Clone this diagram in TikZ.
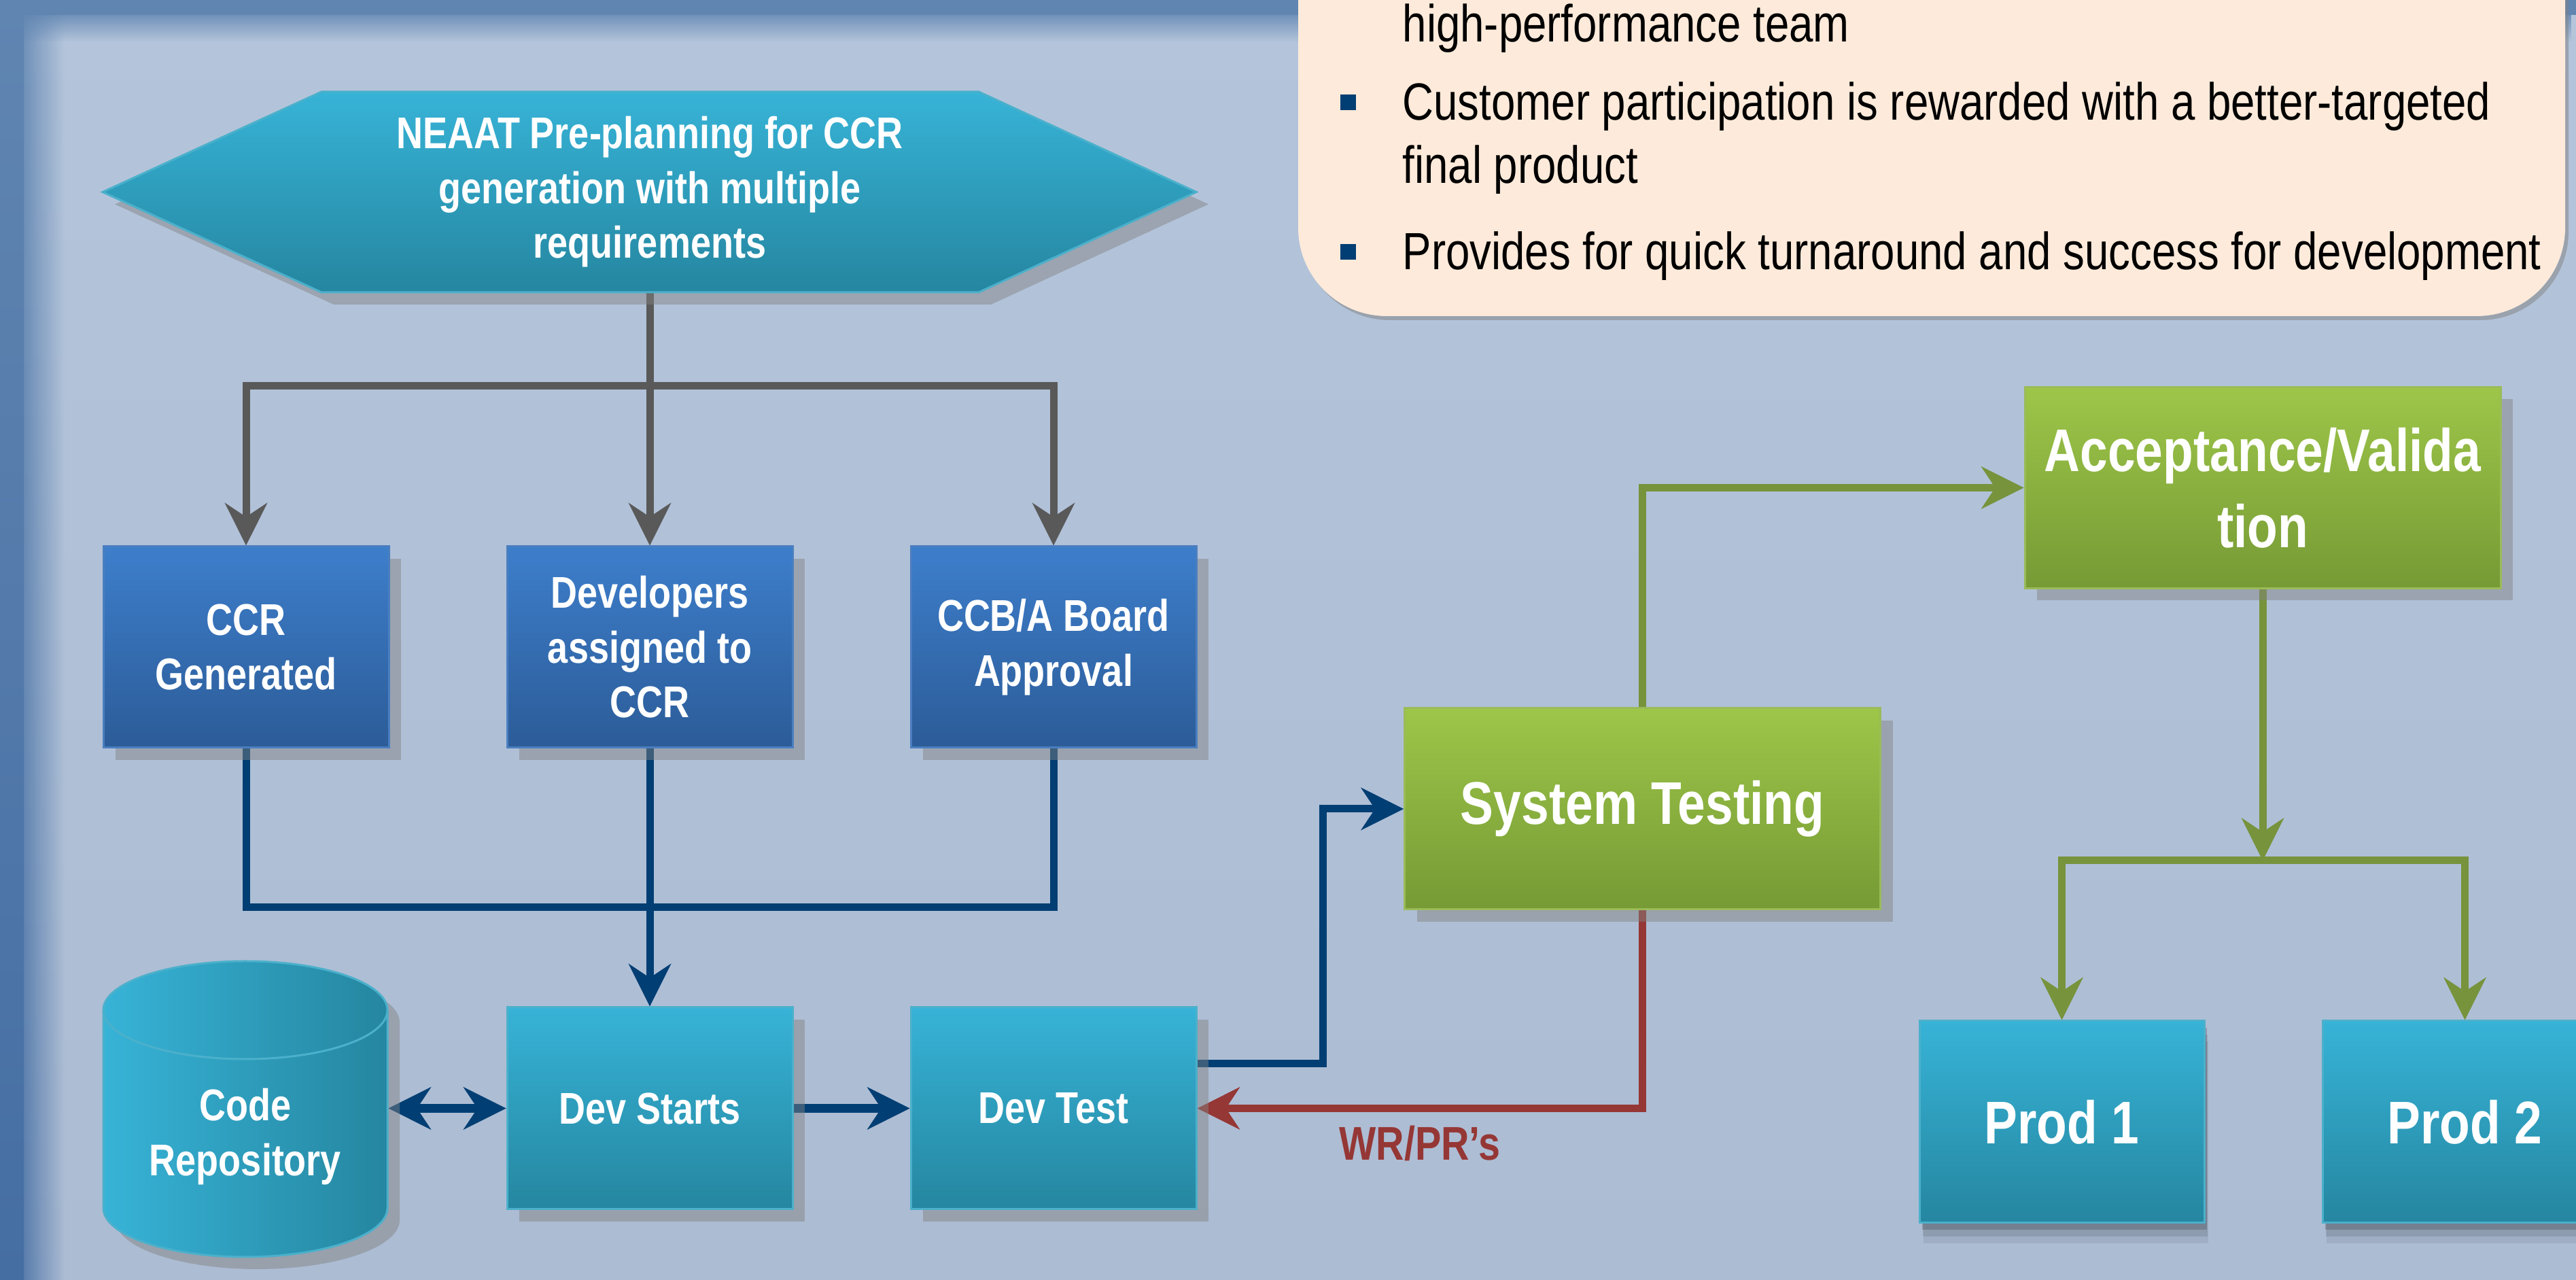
\documentclass[tikz,border=0pt]{standalone}
\usepackage{fontspec}
\setmainfont{Liberation Sans}[FakeStretch=0.826]
\usetikzlibrary{arrows.meta, shadows, backgrounds, fadings}

\definecolor{pagetop}{RGB}{180,197,219}
\definecolor{pagebot}{RGB}{172,188,211}
\definecolor{bandtop}{RGB}{96,133,177}
\definecolor{bandbot}{RGB}{69,110,163}
\definecolor{cyantop}{RGB}{55,179,215}
\definecolor{cyanbot}{RGB}{37,134,160}
\definecolor{cyanline}{RGB}{75,176,203}
\definecolor{bluetop}{RGB}{61,126,203}
\definecolor{bluebot}{RGB}{44,92,152}
\definecolor{blueline}{RGB}{74,126,192}
\definecolor{greentop}{RGB}{157,198,73}
\definecolor{greenbot}{RGB}{118,154,53}
\definecolor{greenline}{RGB}{155,187,89}
\definecolor{shadowgrey}{RGB}{130,130,130}
\definecolor{notefill}{RGB}{253,234,218}
\definecolor{greylink}{RGB}{89,89,89}
\definecolor{bluelink}{RGB}{0,62,115}
\definecolor{greenlink}{RGB}{119,147,60}
\definecolor{redlink}{RGB}{149,55,53}

\newcommand{\smalltxt}{\fontsize{18.6pt}{22.9pt}\selectfont\bfseries}
\newcommand{\bigtxt}{\fontsize{25.2pt}{31.9pt}\selectfont\bfseries}
\newcommand{\notetxt}{\fontsize{21.9pt}{26.5pt}\selectfont}
\newcommand{\wrtxt}{\fontsize{19.8pt}{24pt}\selectfont\bfseries}

\begin{document}
\begin{tikzpicture}[
    >={Stealth[length=6.3mm, width=6.3mm, inset=2.1mm, line width=0.2pt]},
    hardshadow/.style={drop shadow={shadow xshift=1.8mm, shadow yshift=-1.8mm, fill=shadowgrey, opacity=0.47}},
    plainbox/.style={rectangle, line width=0.3mm, align=center, text=white, inner sep=1mm},
    box/.style={plainbox, hardshadow},
    bluebox/.style={box, draw=blueline, top color=bluetop, bottom color=bluebot, minimum width=4.2cm, minimum height=2.96cm, font=\smalltxt},
    cyanbox/.style={box, draw=cyanline, top color=cyantop, bottom color=cyanbot, minimum width=4.2cm, minimum height=2.97cm, font=\smalltxt},
    greenbox/.style={box, draw=greenline, top color=greentop, bottom color=greenbot, minimum width=7cm, minimum height=2.96cm, font=\bigtxt},
    prodbox/.style={plainbox, draw=cyanline, top color=cyantop, bottom color=cyanbot, minimum width=4.19cm, minimum height=2.97cm, font=\bigtxt,
        general shadow={shadow xshift=0.6mm, shadow yshift=-3mm, fill=black, opacity=0.07},
        general shadow={shadow xshift=0.5mm, shadow yshift=-2mm, fill=black, opacity=0.1},
        general shadow={shadow xshift=0.4mm, shadow yshift=-1mm, fill=black, opacity=0.18}},
    notetext/.style={anchor=base west, inner sep=0pt, font=\notetxt},
    bullet/.style={fill=bluelink, minimum size=2.3mm, inner sep=0pt},
    link/.style={->, line width=1.1mm}
]
\useasboundingbox (0,0) rectangle (37.9,18.82);

% page
\begin{scope}[on background layer]
  \shade[top color=pagetop, bottom color=pagebot] (0,0) rectangle (37.9,18.82);
  \fill[bandtop] (0,18.6) rectangle (37.9,18.82);
  \fill[bandtop, path fading=south] (0,18.2) rectangle (37.9,18.7);
  \shade[top color=bandtop, bottom color=bandbot] (0,0) rectangle (0.35,18.82);
  \shade[top color=bandtop, bottom color=bandbot, path fading=east] (0.2,0) rectangle (0.95,18.82);
\end{scope}

% notes
\path[fill=notefill, rounded corners=1.3cm, drop shadow={shadow xshift=0.5mm, shadow yshift=-0.6mm, fill=shadowgrey, opacity=0.5}] (19.10,14.17) rectangle (37.74,21);
\node[notetext] (hp) at (20.63,18.20) {high-performance team};
\node[bullet] (b1) at (19.83,17.315) {};
\node[notetext] (cust) at (20.63,17.05) {Customer participation is rewarded with a better-targeted};
\node[notetext] (fin) at (20.63,16.12) {final product};
\node[bullet] (b2) at (19.83,15.115) {};
\node[notetext] (prov) at (20.63,14.85) {Provides for quick turnaround and success for development};

% pre-planning
\path[draw=cyanline, line width=0.3mm, top color=cyantop, bottom color=cyanbot, hardshadow]
  (1.51,15.995) -- (4.73,17.47) -- (14.40,17.47) -- (17.60,15.995) -- (14.40,14.52) -- (4.73,14.52) -- cycle;
\node[align=center, text=white, font=\smalltxt, minimum height=2.95cm] (plan) at (9.56,15.995) {NEAAT Pre-planning for CCR\\generation with multiple\\requirements};

% repository
\path[draw=cyanline, line width=0.3mm, left color=cyantop, right color=cyanbot, hardshadow]
  (1.52,3.96) -- (1.52,1.05) arc[start angle=180, end angle=360, x radius=2.09, y radius=0.72]
  -- (5.70,3.96) arc[start angle=0, end angle=180, x radius=2.09, y radius=0.72] -- cycle;
\draw[cyanline, line width=0.3mm] (1.52,3.96) arc[start angle=180, end angle=360, x radius=2.09, y radius=0.72];
\node[plainbox, font=\smalltxt, minimum width=4.18cm] (repo) at (3.61,2.10) {Code\\Repository};

\node[bluebox] (ccr) at (3.62,9.30) {CCR\\Generated};
\node[bluebox] (assign) at (9.56,9.30) {Developers\\assigned to\\CCR};
\node[bluebox] (approve) at (15.50,9.30) {CCB/A Board\\Approval};
\node[cyanbox] (devstart) at (9.56,2.515) {Dev Starts};
\node[cyanbox] (devtest) at (15.50,2.515) {Dev Test};
\node[greenbox] (systest) at (24.165,6.92) {System Testing};
\node[greenbox] (accept) at (33.29,11.645) {Acceptance/Valida\\tion};
\node[prodbox] (prod1) at (30.335,2.315) {Prod 1};
\node[prodbox] (prod2) at (36.265,2.315) {Prod 2};

\coordinate (fork) at (9.56,13.14);
\coordinate (join) at (9.56,5.47);
\coordinate (pfork) at (33.29,6.16);

\begin{scope}[on background layer]
  \draw[link, greylink] (plan) -- (assign);
  \draw[link, greylink] (fork) -| (ccr);
  \draw[link, greylink] (fork) -| (approve);
  \draw[line width=1.1mm, bluelink] (ccr) |- (join);
  \draw[line width=1.1mm, bluelink] (approve) |- (join);
  \draw[link, bluelink] (assign) -- (devstart);
  \draw[<->, line width=1.3mm, bluelink] (repo.east |- devstart) -- (devstart);
  \draw[link, line width=1.3mm, bluelink] (devstart) -- (devtest);
  \draw[link, bluelink] ([yshift=6.6mm]devtest.east) -- ++(1.85,0) |- (systest);
  \draw[link, redlink] (systest) |- (devtest) node[pos=0.75, below=0.8mm, font=\wrtxt, text=redlink] (wrpr) {WR/PR’s};
  \draw[link, greenlink] (systest) |- (accept);
  \draw[link, greenlink] (accept) -- (pfork);
  \draw[link, greenlink] (pfork) -| (prod1);
  \draw[link, greenlink] (pfork) -| (prod2);
\end{scope}
\end{tikzpicture}
\end{document}
